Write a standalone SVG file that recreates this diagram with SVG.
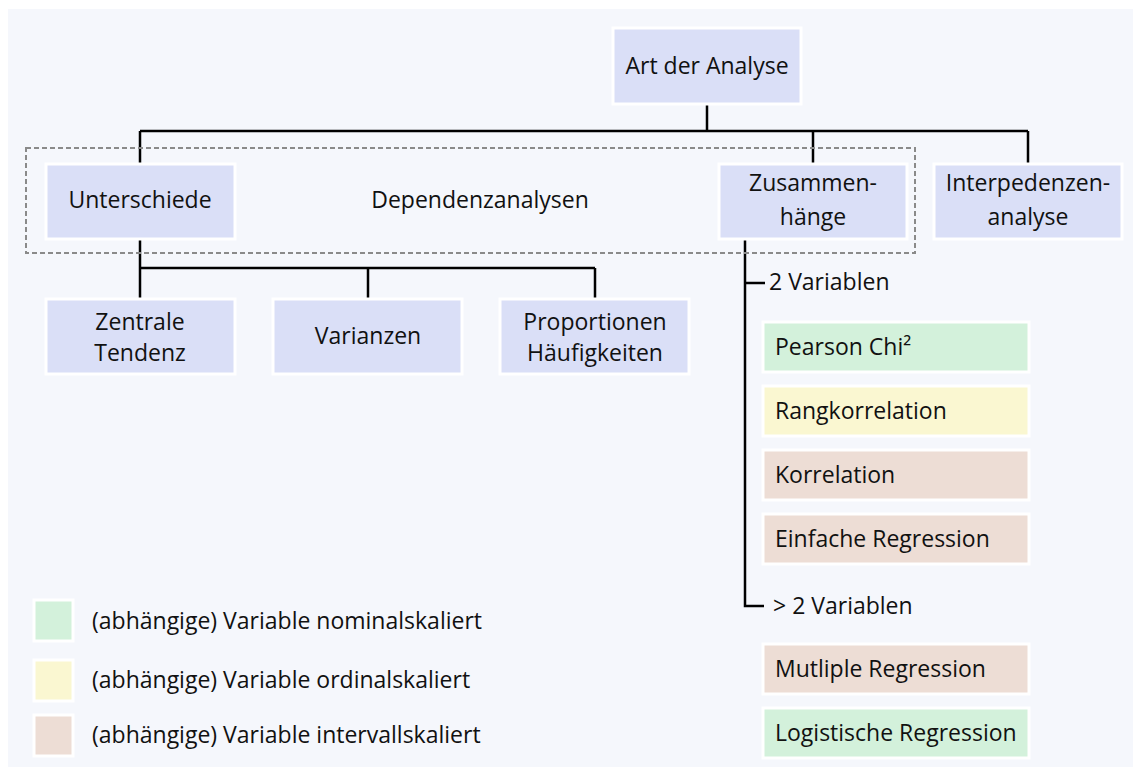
<svg xmlns="http://www.w3.org/2000/svg" width="1133" height="767" viewBox="0 0 1133 767">
<style>
text{font-family:"Open Sans","Liberation Sans",sans-serif;font-size:23px;fill:#111}
.n{fill:#DADFF7;stroke:#fff;stroke-width:3}
.g{fill:#D3F1DB;stroke:#fff;stroke-width:3}
.y{fill:#FAF7D1;stroke:#fff;stroke-width:3}
.r{fill:#EDDDD5;stroke:#fff;stroke-width:3}
.c{fill:none;stroke:#000;stroke-width:2.5}
.m{text-anchor:middle}
</style>
<rect x="0" y="0" width="1133" height="767" fill="#fff"/>
<rect x="8" y="9" width="1125" height="758" fill="#F5F7FC"/>
<g id="connectors">
<path class="c" d="M707 104V131M140 131H1028M140 131V165M813 131V165M1028 131V165"/>
<path class="c" d="M140 238V268M140 268H595M140 268V299M368 268V299M595 268V299"/>
<path class="c" d="M745 238V606H764M745 283H765"/>
</g>
<rect id="dependenz" x="26" y="148" width="889" height="105" fill="none" stroke="#8a8a8a" stroke-width="2" stroke-dasharray="5,3"/>
<text x="480" y="208" class="m">Dependenzanalysen</text>
<g id="art"><rect class="n" x="613" y="28" width="188" height="76"/><text x="707" y="74" class="m">Art der Analyse</text></g>
<g id="unterschiede"><rect class="n" x="46" y="164" width="189" height="75"/><text x="140" y="208" class="m">Unterschiede</text></g>
<g id="zusammen"><rect class="n" x="719" y="164" width="188" height="75"/><text x="813" y="191" class="m">Zusammen-</text><text x="813" y="225" class="m">hänge</text></g>
<g id="interdep"><rect class="n" x="934" y="164" width="188" height="75"/><text x="1028" y="191" class="m">Interpedenzen-</text><text x="1028" y="225" class="m">analyse</text></g>
<g id="zentral"><rect class="n" x="46" y="299" width="189" height="75"/><text x="140" y="330" class="m">Zentrale</text><text x="140" y="361" class="m">Tendenz</text></g>
<g id="varianzen"><rect class="n" x="273" y="299" width="189" height="75"/><text x="368" y="344" class="m">Varianzen</text></g>
<g id="proportionen"><rect class="n" x="500" y="299" width="189" height="75"/><text x="595" y="330" class="m">Proportionen</text><text x="595" y="361" class="m">Häufigkeiten</text></g>
<text x="769" y="290">2 Variablen</text>
<text x="773" y="614">&gt; 2 Variablen</text>
<g id="pearson"><rect class="g" x="763" y="322" width="266" height="50"/><text x="775" y="355">Pearson Chi²</text></g>
<g id="rang"><rect class="y" x="763" y="386" width="266" height="50"/><text x="775" y="419">Rangkorrelation</text></g>
<g id="korrelation"><rect class="r" x="763" y="450" width="266" height="50"/><text x="775" y="483">Korrelation</text></g>
<g id="einfache"><rect class="r" x="763" y="514" width="266" height="50"/><text x="775" y="547">Einfache Regression</text></g>
<g id="multiple"><rect class="r" x="763" y="644" width="266" height="50"/><text x="775" y="677">Mutliple Regression</text></g>
<g id="logistisch"><rect class="g" x="763" y="708" width="266" height="50"/><text x="775" y="741">Logistische Regression</text></g>
<g id="legend">
<rect class="g" x="34" y="600" width="39" height="41"/><text x="92" y="629">(abhängige) Variable nominalskaliert</text>
<rect class="y" x="34" y="660" width="39" height="41"/><text x="92" y="688">(abhängige) Variable ordinalskaliert</text>
<rect class="r" x="34" y="715" width="39" height="41"/><text x="92" y="743">(abhängige) Variable intervallskaliert</text>
</g>
</svg>
